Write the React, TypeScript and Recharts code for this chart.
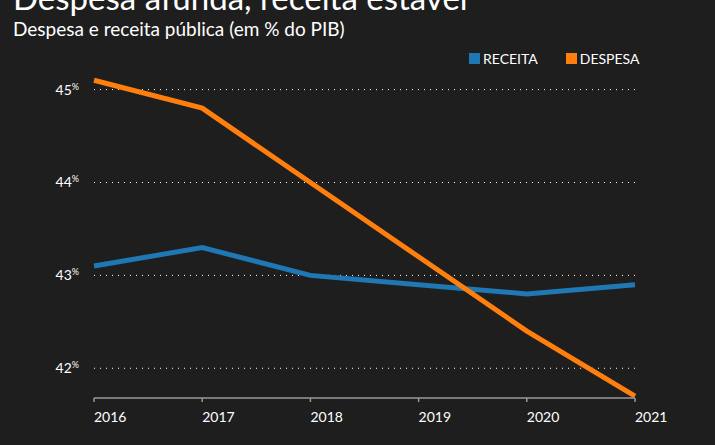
import { LineChart, Line, XAxis, YAxis, CartesianGrid } from 'recharts';

const years = ['2016', '2017', '2018', '2019', '2020', '2021'];
const receita = [43.1, 43.3, 43.0, 42.9, 42.8, 42.9];
const despesa = [45.1, 44.8, 44.0, 43.2, 42.4, 41.7];
const yTicks = [42, 43, 44, 45];

const BLUE = '#1f77b4';
const ORANGE = '#ff7f0e';
const FONT = 'Lato, "Noto Sans", sans-serif';

const data = years.map((year, i) => ({
  year,
  receita: receita[i],
  despesa: despesa[i],
}));

function YTick({ x, y, payload }: any) {
  return (
    <text x={x - 7} y={y + 5} textAnchor="end" fill="#ffffff" fontSize={14} fontFamily={FONT}>
      {payload.value}
      <tspan fontSize={9} dy={-5}>%</tspan>
    </text>
  );
}

function XTick({ x, y, payload }: any) {
  return (
    <text x={x} y={y + 18} textAnchor="start" fill="#ffffff" fontSize={14} fontFamily={FONT}>
      {payload.value}
    </text>
  );
}

function LegendBox() {
  const items = [
    { label: 'RECEITA', color: BLUE },
    { label: 'DESPESA', color: ORANGE },
  ];
  return (
    <div
      style={{
        position: 'absolute',
        left: 469,
        top: 50,
        display: 'flex',
        gap: 28,
        fontFamily: FONT,
        fontSize: 14,
        color: '#fff',
      }}
    >
      {items.map((it) => (
        <div key={it.label} style={{ display: 'flex', alignItems: 'center' }}>
          <span style={{ width: 11, height: 11, background: it.color, marginRight: 3 }} />
          {it.label}
        </div>
      ))}
    </div>
  );
}

export default function App() {
  return (
    <div
      style={{
        position: 'fixed',
        left: 0,
        top: 0,
        width: 715,
        height: 445,
        background: '#1e1e1e',
        overflow: 'hidden',
      }}
    >
      <div
        style={{
          position: 'absolute',
          left: 13,
          top: -23,
          color: '#fff',
          fontFamily: FONT,
          fontSize: 33,
          whiteSpace: 'nowrap',
        }}
      >
        Despesa afunda, receita estável
      </div>
      <div
        style={{
          position: 'absolute',
          left: 13,
          top: 17,
          color: '#fff',
          fontFamily: FONT,
          fontSize: 19,
          whiteSpace: 'nowrap',
        }}
      >
        Despesa e receita pública (em % do PIB)
      </div>
      <LegendBox />
      <LineChart
        width={715}
        height={445}
        data={data}
        margin={{ top: 71, right: 80, bottom: 17, left: 0 }}
        style={{ position: 'absolute', left: 0, top: 0 }}
      >
        <CartesianGrid
          vertical={false}
          stroke="#ffffff"
          strokeDasharray="1 5"
          horizontalValues={yTicks}
        />
        <XAxis
          dataKey="year"
          tick={<XTick />}
          stroke="#999"
          strokeWidth={1.5}
          tickSize={4}
          height={30}
          interval={0}
        />
        <YAxis
          type="number"
          domain={[41.68, 45.2]}
          ticks={yTicks}
          tick={<YTick />}
          axisLine={false}
          tickLine={false}
          width={94}
        />
        <Line
          type="linear"
          dataKey="receita"
          stroke={BLUE}
          strokeWidth={5}
          dot={false}
          isAnimationActive={false}
        />
        <Line
          type="linear"
          dataKey="despesa"
          stroke={ORANGE}
          strokeWidth={5}
          dot={false}
          isAnimationActive={false}
        />
      </LineChart>
    </div>
  );
}
